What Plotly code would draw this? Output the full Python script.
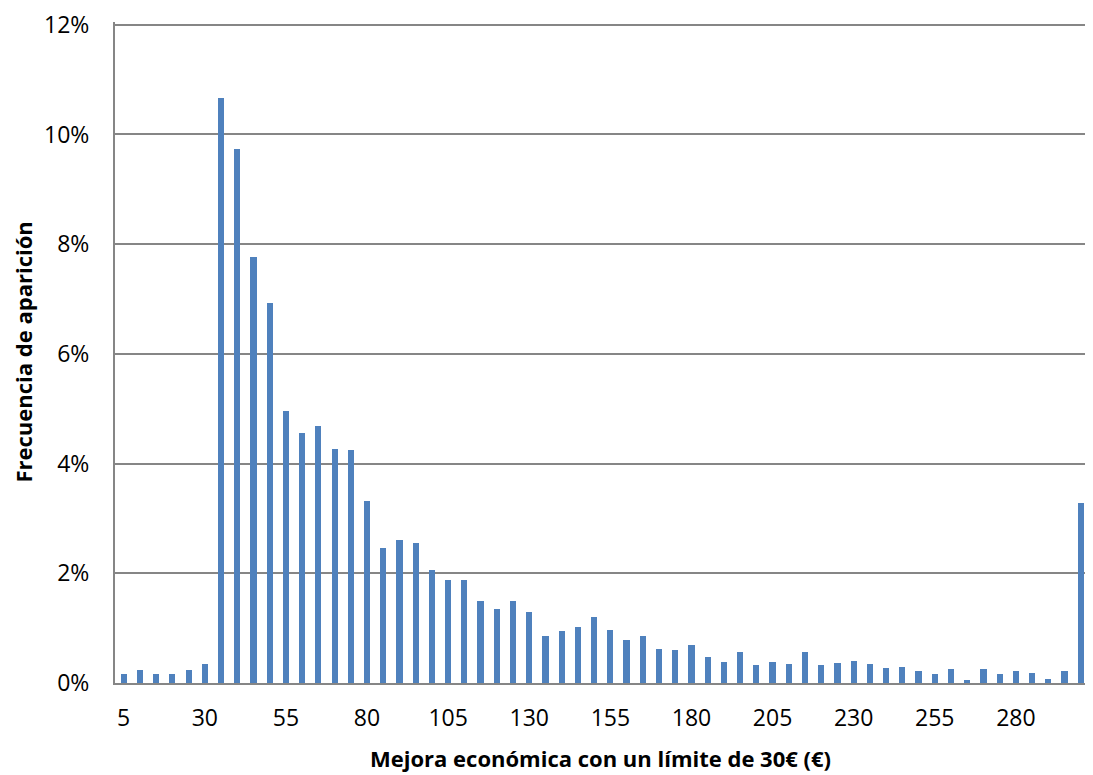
import plotly.graph_objects as go

# mejora económica (€), categorías de 5 en 5
mejora = list(range(5, 305, 5))

# frecuencia de aparición (fracción)
frecuencia = [
    0.0016, 0.0024, 0.0016, 0.0016, 0.0024, 0.0035,
    0.1066, 0.0974, 0.0776, 0.0693, 0.0495, 0.0456, 0.0469, 0.0426, 0.0424,
    0.0332, 0.0247, 0.0260, 0.0256, 0.0206, 0.0188, 0.0188, 0.0150, 0.0134,
    0.0150, 0.0129, 0.0085, 0.0095, 0.0102, 0.0120, 0.0097, 0.0078, 0.0085,
    0.0062, 0.0060, 0.0069, 0.0048, 0.0039, 0.0056, 0.0032, 0.0039, 0.0035,
    0.0056, 0.0032, 0.0037, 0.0041, 0.0035, 0.0028, 0.0030, 0.0021, 0.0016,
    0.0026, 0.0005, 0.0026, 0.0016, 0.0021, 0.0018, 0.0007, 0.0021, 0.0329,
]

ticks_x = [5, 30, 55, 80, 105, 130, 155, 180, 205, 230, 255, 280]
ticks_y = [0, 0.02, 0.04, 0.06, 0.08, 0.10, 0.12]
ticks_y_txt = ["0%", "2%", "4%", "6%", "8%", "10%", "12%"]

fig = go.Figure(go.Bar(x=mejora, y=frecuencia, width=1.9,
                       marker=dict(color='#4F81BD', line=dict(width=0))))

# la página tiene 8px de margen en el body: se descuenta aquí
fig.update_layout(
    width=1077, height=767,
    margin=dict(l=107, r=0, t=11, b=92),
    plot_bgcolor='white', paper_bgcolor='white',
    font=dict(family='Open Sans', size=23, color='black'),
    showlegend=False,
    bargap=0,
)
fig.update_xaxes(range=[2.32, 301.3], tickvals=ticks_x, showgrid=False,
                 showline=True, linecolor='#868686', linewidth=2,
                 ticks='', ticklabelstandoff=13, zeroline=False)
# el eje vertical empieza a 12% (línea superior de la cuadrícula)
fig.update_yaxes(range=[0, 0.1205], tickvals=ticks_y, ticktext=ticks_y_txt,
                 showgrid=True, gridcolor='#868686', gridwidth=1.5,
                 showline=True, linecolor='#868686', linewidth=2,
                 ticks='', ticklabelstandoff=19, zeroline=False,
                 ticklabeloverflow='allow')

fig.add_annotation(text="<b>Mejora económica con un límite de 30€ (€)</b>",
                   xref='paper', yref='paper', x=0.5, y=0, yshift=-75,
                   showarrow=False, font=dict(size=22), yanchor='middle')
fig.add_annotation(text="<b>Frecuencia de aparición</b>",
                   xref='paper', yref='paper', x=0, y=0.5, xshift=-93,
                   showarrow=False, font=dict(size=22), textangle=-90,
                   xanchor='center')

fig.write_html("out.html")
